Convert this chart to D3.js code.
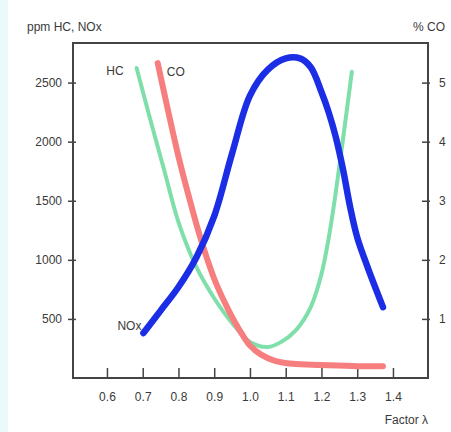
<!DOCTYPE html>
<html>
<head>
<meta charset="utf-8">
<script src="https://cdn.jsdelivr.net/npm/d3@7"></script>
<style>
  body { margin: 0; background: #fff; }
  svg text { font-family: "Liberation Sans", Arial, sans-serif; fill: #3a3a3a; }
</style>
</head>
<body>
<div id="chart"></div>
<script>
// lambda values and readings
var hcLambda  = [0.683, 0.72, 0.76, 0.80, 0.85, 0.90, 0.95, 1.00, 1.05, 1.09, 1.13, 1.17, 1.20, 1.225, 1.245, 1.265, 1.285]
var hcPpm     = [2624, 2200, 1760, 1320, 940, 675, 465, 305, 262, 310, 410, 600, 880, 1270, 1680, 2130, 2591]

var coLambda  = [0.742, 0.77, 0.80, 0.83, 0.86, 0.90, 0.94, 0.98, 1.00, 1.03, 1.07, 1.12, 1.20, 1.30, 1.372]
var coPct     = [5.33, 4.55, 3.75, 3.05, 2.40, 1.68, 1.15, 0.72, 0.55, 0.40, 0.29, 0.24, 0.22, 0.20, 0.20]

var noxLambda = [0.702, 0.75, 0.80, 0.85, 0.90, 0.95, 1.00, 1.05, 1.10, 1.14, 1.17, 1.20, 1.22, 1.24, 1.26, 1.28, 1.30, 1.33, 1.372]
var noxPpm    = [380, 570, 770, 1020, 1370, 1900, 2390, 2610, 2705, 2705, 2630, 2420, 2250, 2040, 1770, 1450, 1190, 930, 600]

var xTicks  = [0.6, 0.7, 0.8, 0.9, 1.0, 1.1, 1.2, 1.3, 1.4]
var yTicks  = [500, 1000, 1500, 2000, 2500]
var y2Ticks = [1, 2, 3, 4, 5]

var W = 451, H = 432
var margin = {top: 43, right: 23, bottom: 54, left: 73}
var width = W - margin.left - margin.right
var height = H - margin.top - margin.bottom

var svg = d3.select("#chart").append("svg")
  .attr("width", W)
  .attr("height", H)

// faint tinted strip at the left edge of the scan
svg.append("rect").attr("x", 0).attr("y", 0).attr("width", 8).attr("height", H).attr("fill", "#eafafa")

var g = svg.append("g").attr("transform", "translate(" + margin.left + "," + margin.top + ")")

var x = d3.scaleLinear().domain([0.505, 1.498]).range([0, width])
var y = d3.scaleLinear().domain([0, 2835]).range([height, 0])
var y2 = d3.scaleLinear().domain([0, 2835 / 500]).range([height, 0])

// frame
g.append("rect")
  .attr("width", width).attr("height", height)
  .attr("fill", "none").attr("stroke", "#444").attr("stroke-width", 2)

// left axis
var yAxis = g.append("g")
  .call(d3.axisLeft(y).tickValues(yTicks).tickSize(5).tickPadding(6).tickFormat(d3.format("d")))
yAxis.select(".domain").remove()
yAxis.selectAll("line").attr("x2", -5).attr("x1", 3).attr("stroke", "#444").attr("stroke-width", 1.5)
yAxis.selectAll("text").style("font-size", "12px").attr("fill", "#3a3a3a")

// right axis (% CO)
var y2Axis = g.append("g").attr("transform", "translate(" + width + ",0)")
  .call(d3.axisRight(y2).tickValues(y2Ticks).tickSize(2).tickPadding(9).tickFormat(d3.format("d")))
y2Axis.select(".domain").remove()
y2Axis.selectAll("line").attr("x1", -6).attr("x2", 2).attr("stroke", "#444").attr("stroke-width", 1.5)
y2Axis.selectAll("text").style("font-size", "12px").attr("fill", "#3a3a3a")

// bottom axis, ticks pointing inward
var xAxis = g.append("g").attr("transform", "translate(0," + height + ")")
  .call(d3.axisBottom(x).tickValues(xTicks).tickSize(-10).tickPadding(14).tickFormat(d3.format(".1f")))
xAxis.select(".domain").remove()
xAxis.selectAll("line").attr("stroke", "#444").attr("stroke-width", 1.5)
xAxis.selectAll("text").style("font-size", "12px").attr("fill", "#3a3a3a")

var line = d3.line().curve(d3.curveCatmullRom.alpha(0.5))

function pts(xs, ys, sc) {
  return xs.map(function(v, i) { return [x(v), sc(ys[i])] })
}

g.append("path")
  .attr("d", line(pts(hcLambda, hcPpm, y)))
  .attr("fill", "none").attr("stroke", "#7fdfaa").attr("stroke-width", 4)
  .attr("stroke-linecap", "round").attr("stroke-linejoin", "round")

g.append("path")
  .attr("d", line(pts(coLambda, coPct, y2)))
  .attr("fill", "none").attr("stroke", "#f77e7e").attr("stroke-width", 6)
  .attr("stroke-linecap", "round").attr("stroke-linejoin", "round")

g.append("path")
  .attr("d", line(pts(noxLambda, noxPpm, y)))
  .attr("fill", "none").attr("stroke", "#1c2de6").attr("stroke-width", 6.5)
  .attr("stroke-linecap", "round").attr("stroke-linejoin", "round")

// curve labels
g.append("text").attr("x", x(hcLambda[0]) - 13).attr("y", y(hcPpm[0]) + 7)
  .attr("text-anchor", "end").style("font-size", "12px").text("HC")
g.append("text").attr("x", x(coLambda[0]) + 9).attr("y", y2(coPct[0]) + 13)
  .style("font-size", "12px").text("CO")
g.append("text").attr("x", x(noxLambda[0]) - 2).attr("y", y(noxPpm[0]) - 3)
  .attr("text-anchor", "end").style("font-size", "12px").text("NOx")

// axis titles
svg.append("text").attr("x", 27).attr("y", 31).style("font-size", "12px").text("ppm HC, NOx")
svg.append("text").attr("x", 445).attr("y", 31).attr("text-anchor", "end").style("font-size", "12px").text("% CO")
svg.append("text").attr("x", 428).attr("y", 424).attr("text-anchor", "end").style("font-size", "12px").text("Factor λ")
</script>
</body>
</html>
